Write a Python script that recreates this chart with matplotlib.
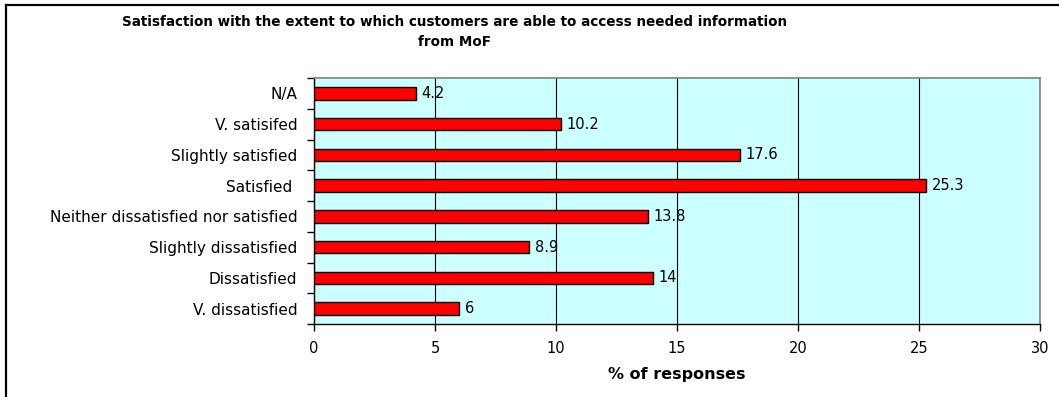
import matplotlib
matplotlib.use("Agg")
import matplotlib.pyplot as plt
from matplotlib.lines import Line2D
import numpy as np

categories = ["V. dissatisfied", "Dissatisfied", "Slightly dissatisfied",
              "Neither dissatisfied nor satisfied", "Satisfied ",
              "Slightly satisfied", "V. satisifed", "N/A"]
values = [6, 14, 8.9, 13.8, 25.3, 17.6, 10.2, 4.2]
value_labels = ["6", "14", "8.9", "13.8", "25.3", "17.6", "10.2", "4.2"]
x_ticks = [0, 5, 10, 15, 20, 25, 30]
title = "Satisfaction with the extent to which customers are able to access needed information\nfrom MoF"
x_label = "% of responses"

plt.rcParams['font.family'] = ['DejaVu Sans']

W, H = 1059, 397
fig = plt.figure(figsize=(W / 100, H / 100), dpi=100)
ax = fig.add_axes([314 / W, 1 - 324 / H, (1040 - 314) / W, (324 - 78) / H])
ax.set_facecolor("#CCFFFF")

y = np.arange(len(categories))
ax.barh(y, values, height=0.4, color="#FF0000", edgecolor="black", linewidth=1, zorder=3)
for yi, v, lab in zip(y, values, value_labels):
    ax.annotate(lab, (v, yi), xytext=(4, 0), textcoords="offset points",
                va="center", ha="left", fontsize=10.5, zorder=4)

ax.set_xlim(0, 30)
ax.set_ylim(-0.5, len(categories) - 0.5)
ax.set_xticks(x_ticks)
ax.set_xticklabels([str(t) for t in x_ticks], fontsize=10.5)
ax.tick_params(axis="x", direction="out", length=5, width=1, pad=7)
ax.xaxis.grid(True, color="#000000", linewidth=0.8, zorder=1)

ax.set_yticks(np.arange(-0.5, len(categories), 1.0))
ax.set_yticklabels([])
ax.set_yticks(y, minor=True)
ax.set_yticklabels(categories, minor=True, fontsize=11)
ax.tick_params(axis="y", which="major", direction="out", length=5, width=1)
ax.tick_params(axis="y", which="minor", length=0, pad=12)

for s in ["top", "right"]:
    ax.spines[s].set_color("#808080")
    ax.spines[s].set_linewidth(1.2)
for s in ["left", "bottom"]:
    ax.spines[s].set_color("black")
    ax.spines[s].set_linewidth(1)

ax.set_xlabel(x_label, fontsize=11.5, fontweight="bold", labelpad=8)
fig.text(455 / W, 1 - 32 / H, title, ha="center", va="center",
         fontsize=9.75, fontweight="bold", linespacing=1.6)

fig.add_artist(Line2D([5.5 / W, 5.5 / W], [0, 1 - 4.5 / H], color="black",
                      linewidth=1.6, transform=fig.transFigure))
fig.add_artist(Line2D([5.5 / W, 1], [1 - 4.5 / H, 1 - 4.5 / H], color="black",
                      linewidth=1.6, transform=fig.transFigure))

fig.savefig("out.png", dpi=100)
